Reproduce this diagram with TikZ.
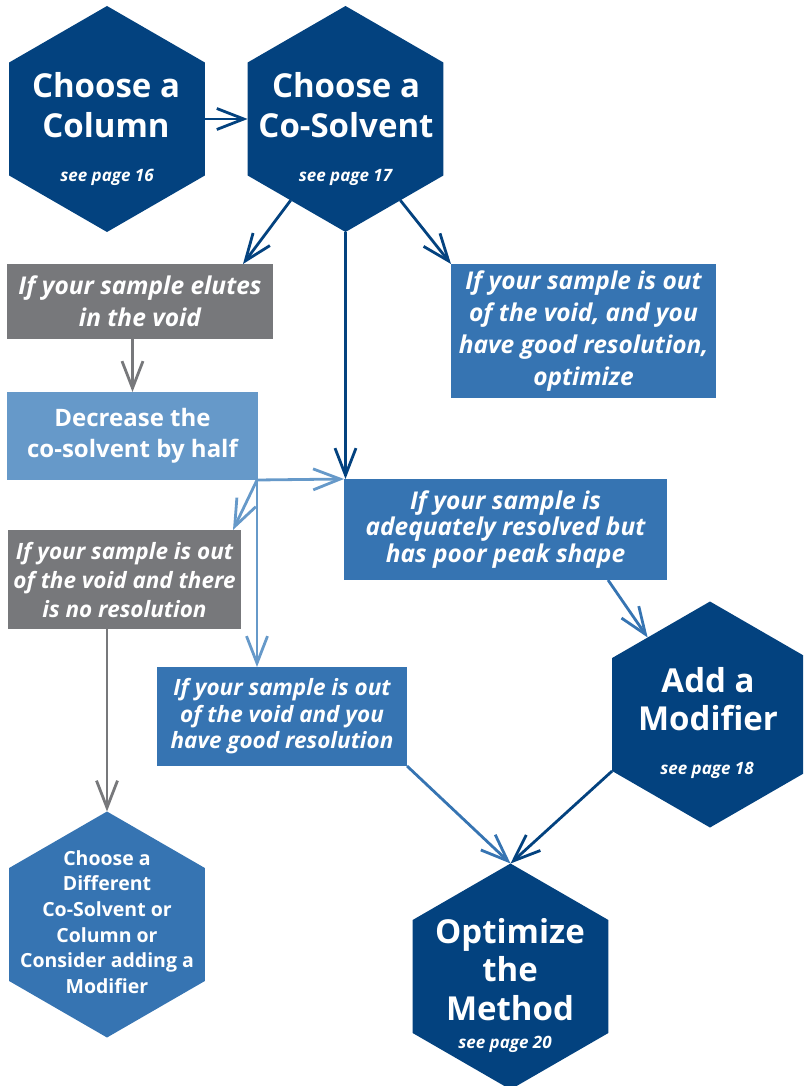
\documentclass[tikz,border=0pt]{standalone}
\usepackage{fontspec}
\setmainfont{Open Sans}
\usetikzlibrary{shapes.geometric,arrows.meta,calc}
\definecolor{dkblue}{HTML}{03427F}
\definecolor{midblue}{HTML}{3674B2}
\definecolor{ltblue}{HTML}{6699C9}
\definecolor{grayc}{HTML}{77787B}
\begin{document}
\begin{tikzpicture}[x=1pt,y=-1pt,
  hex/.style={regular polygon, regular polygon sides=6, shape border rotate=90,
    minimum size=226pt, inner sep=0pt, outer sep=0pt, draw=none},
  box/.style={rectangle, inner sep=0pt, outer sep=0pt, text=white, align=center,
    font=\fontsize{24.5}{32}\selectfont\bfseries\itshape},
  boxup/.style={box, font=\fontsize{24}{31}\selectfont\bfseries},
  title/.style={text=white, align=center, inner sep=0pt, font=\fontsize{33}{40}\selectfont\bfseries},
  pageref/.style={text=white, anchor=base, inner sep=0pt, font=\fontsize{17}{19}\selectfont\bfseries\itshape},
  arr/.style={line width=2.8pt, -{Straight Barb[length=27pt,width=21pt,line width=2.8pt]}}
]
\useasboundingbox (0,0) rectangle (803,1086);
\clip (0,0) rectangle (803,1086);

% hexagons
\node[hex, fill=dkblue] (h1) at (107,119) {};
\node[hex, fill=dkblue] (h2) at (345.5,119) {};
\node[hex, fill=dkblue] (hm) at (710,714.5) {};
\node[hex, fill=dkblue] (ho) at (510.5,976.5) {};
\node[hex, fill=midblue] (hd) at (107,924.5) {};

\node[title] (t1) at (106,105) {Choose a\\Column};
\node[pageref] (p1) at (107,182) {see page 16};
\node[title] (t2) at (346,105) {Choose a\\Co-Solvent};
\node[pageref] (p2) at (345.5,182) {see page 17};
\node[title, font=\fontsize{33}{38.5}\selectfont\bfseries] (tm) at (708,699) {Add a\\Modifier};
\node[pageref] (pm) at (707,774) {see page 18};
\node[title, font=\fontsize{33}{38.5}\selectfont\bfseries] (to) at (510,969.5) {Optimize\\the\\Method};
\node[pageref] (po) at (505,1048) {see page 20};
\node[title, font=\fontsize{19.5}{25.7}\selectfont\bfseries] (td) at (107,922)
  {Choose a\\Different\\Co-Solvent or\\Column or\\Consider adding a\\Modifier};

% boxes
\node[box, fill=grayc, minimum width=266pt, minimum height=75pt] (g1) at (140,301.5)
  {If your sample elutes\\in the void};
\node[boxup, fill=ltblue, minimum width=251pt, minimum height=88pt] (dec) at (132.5,436)
  {Decrease the\\co-solvent by half};
\node[box, fill=midblue, minimum width=265pt, minimum height=134pt] (r1) at (583.5,331)
  {If your sample is out\\of the void, and you\\have good resolution,\\optimize};
\node[box, fill=midblue, minimum width=323pt, minimum height=101pt,
  font=\fontsize{24.5}{26.7}\selectfont\bfseries\itshape] (adq) at (505.5,529.5)
  {If your sample is\\adequately resolved but\\has poor peak shape};
\node[box, fill=grayc, minimum width=233pt, minimum height=99pt,
  font=\fontsize{22.5}{29}\selectfont\bfseries\itshape] (g2) at (124.5,579.5)
  {If your sample is out\\of the void and there\\is no resolution};
\node[box, fill=midblue, minimum width=250pt, minimum height=99pt,
  font=\fontsize{22.5}{26.5}\selectfont\bfseries\itshape] (good) at (282,716.5)
  {If your sample is out\\of the void and you\\have good resolution};

% connectors
\draw[arr, dkblue] (h1.east) -- (h2.west);
\draw[arr, dkblue] (h2.-124) -- ($(g1.north east)+(-30,0)$);
\draw[arr, dkblue] (h2.-56) -- (r1.north west);
\draw[arr, dkblue] (h2.south) -- (h2.south |- adq.north);
\draw[arr, grayc] (dec.north |- g1.south) -- (dec.north);
\coordinate (br) at ($(dec.south east)+(-1,0)$);
\draw[arr, ltblue] (br) -- (adq.north west);
\draw[arr, ltblue] (br) -- ($(g2.north east)+(-8,0)$);
\draw[arr, ltblue] (br) -- (br |- good.north);
\draw[arr, grayc] (hd.north |- g2.south) -- (hd.north);
\draw[arr, midblue] ($(adq.south east)+(-59,0)$) -- (hm.129);
\draw[arr, midblue] (good.south east) -- (ho.north);
\draw[arr, dkblue] (hm.-150) -- (ho.north);
\end{tikzpicture}
\end{document}
